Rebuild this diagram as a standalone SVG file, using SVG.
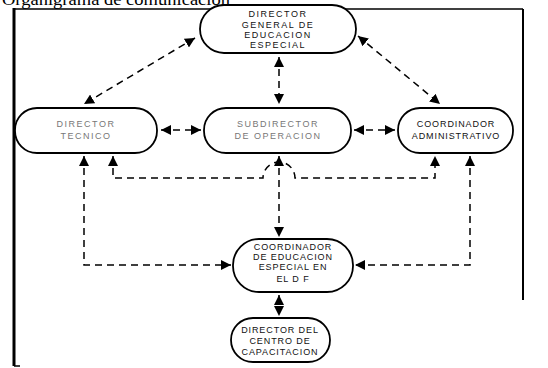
<svg xmlns="http://www.w3.org/2000/svg" width="548" height="368" viewBox="0 0 548 368">
<style>
.node rect{fill:#fff;stroke:#000;stroke-width:1.8}
.node text{font-family:"Liberation Sans",Arial,sans-serif;font-size:9px;letter-spacing:1.5px;text-anchor:middle;fill:#111}
.node.faint text{fill:#777}
.node.tight text{letter-spacing:0.9px}
.conn{fill:none;stroke:#000;stroke-width:1.5;stroke-dasharray:7 5}
.title{font-family:"Liberation Serif","Times New Roman",serif;font-size:17px;fill:#000}
</style>
<defs>
<marker id="ah" viewBox="0 0 10 10" refX="10" refY="5" markerWidth="10" markerHeight="10" markerUnits="userSpaceOnUse" orient="auto-start-reverse">
<path d="M0,0 L10,5 L0,10 Z" fill="#000"/>
</marker>
</defs>
<text class="title" x="2" y="5" textLength="228" lengthAdjust="spacingAndGlyphs">Organigrama de comunicación</text>
<g id="frame" fill="none" stroke="#000">
<path d="M13,9 H523" stroke-width="1.6"/>
<path d="M14,8 V366" stroke-width="3"/>
<path d="M523,9 V300" stroke-width="2"/>
<path d="M14,366 H20" stroke-width="1.5"/>
</g>
<g id="connectors">
<path class="conn" d="M279,57 V104" marker-start="url(#ah)" marker-end="url(#ah)"/>
<path class="conn" d="M195,38 L84,104" marker-start="url(#ah)" marker-end="url(#ah)"/>
<path class="conn" d="M358,36 L440,104" marker-start="url(#ah)" marker-end="url(#ah)"/>
<path class="conn" d="M161,130 H201" marker-start="url(#ah)" marker-end="url(#ah)"/>
<path class="conn" d="M354,130 H395" marker-start="url(#ah)" marker-end="url(#ah)"/>
<path class="conn" d="M113,156 V178 H263 A16,16 0 0 1 295,178 H435 V156" marker-start="url(#ah)" marker-end="url(#ah)"/>
<path class="conn" d="M84,156 V265 H231" marker-start="url(#ah)" marker-end="url(#ah)"/>
<path class="conn" d="M470,156 V265 H355" marker-start="url(#ah)" marker-end="url(#ah)"/>
<path class="conn" d="M279,156 V237" marker-start="url(#ah)" marker-end="url(#ah)"/>
<path class="conn" d="M279,295 V316" marker-start="url(#ah)" marker-end="url(#ah)"/>
</g>
<g id="n-director-general" class="node">
<rect x="200" y="5" width="156" height="48" rx="24"/>
<text x="278" y="17">DIRECTOR</text>
<text x="278" y="28">GENERAL DE</text>
<text x="278" y="38">EDUCACION</text>
<text x="278" y="48">ESPECIAL</text>
</g>
<g id="n-director-tecnico" class="node faint">
<rect x="15" y="108" width="142" height="45" rx="22"/>
<text x="86" y="127">DIRECTOR</text>
<text x="86" y="139">TECNICO</text>
</g>
<g id="n-subdirector" class="node faint">
<rect x="204" y="108" width="147" height="45" rx="22"/>
<text x="278" y="127">SUBDIRECTOR</text>
<text x="278" y="139">DE OPERACION</text>
</g>
<g id="n-coord-admin" class="node tight">
<rect x="398" y="108" width="115" height="45" rx="22"/>
<text x="456" y="127">COORDINADOR</text>
<text x="456" y="139">ADMINISTRATIVO</text>
</g>
<g id="n-coord-edu" class="node tight">
<rect x="233" y="239" width="120" height="53" rx="26"/>
<text x="293" y="250">COORDINADOR</text>
<text x="293" y="260">DE EDUCACION</text>
<text x="293" y="270">ESPECIAL EN</text>
<text x="293" y="282">EL D F</text>
</g>
<g id="n-director-centro" class="node tight">
<rect x="231" y="318" width="99" height="44" rx="22"/>
<text x="280" y="333">DIRECTOR DEL</text>
<text x="280" y="344">CENTRO DE</text>
<text x="280" y="355">CAPACITACION</text>
</g>
</svg>
